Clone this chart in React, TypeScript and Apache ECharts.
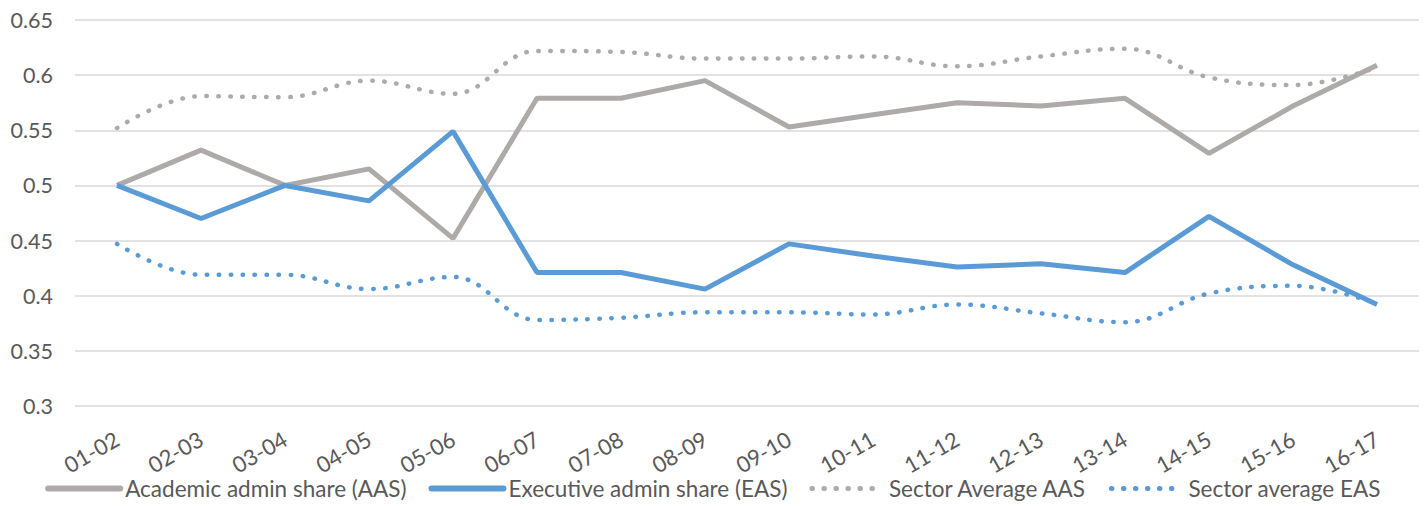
import React, { useEffect, useRef } from "react";
import * as echarts from "echarts";

const categories = ["01-02", "02-03", "03-04", "04-05", "05-06", "06-07", "07-08", "08-09", "09-10", "10-11", "11-12", "12-13", "13-14", "14-15", "15-16", "16-17"];
const aas = [0.5, 0.532, 0.5, 0.515, 0.452, 0.579, 0.579, 0.595, 0.553, 0.564, 0.575, 0.572, 0.579, 0.529, 0.572, 0.609];
const eas = [0.5, 0.47, 0.5, 0.486, 0.549, 0.421, 0.421, 0.406, 0.447, 0.436, 0.426, 0.429, 0.421, 0.472, 0.428, 0.392];
const sectorAas = [0.552, 0.581, 0.58, 0.595, 0.583, 0.622, 0.621, 0.615, 0.615, 0.617, 0.608, 0.617, 0.624, 0.598, 0.591, 0.607];
const sectorEas = [0.447, 0.419, 0.419, 0.406, 0.417, 0.378, 0.38, 0.385, 0.385, 0.383, 0.392, 0.384, 0.376, 0.402, 0.409, 0.393];

const GRAY = "#AEAAAA";
const BLUE = "#5B9BD5";
const FONT = "Lato";
const TXT = "#595959";

export default function App() {
  const ref = useRef<HTMLDivElement>(null);
  useEffect(() => {
    if (!ref.current) return;
    const chart = echarts.init(ref.current, null, { renderer: "svg" });
    const dotted = { type: [0.5, 11.5] as any, cap: "round" as const, width: 4.5 };
    const solidLegend = { width: 6, cap: "round" as const };
    const dottedLegend = { width: 5, type: [0.5, 11.5] as any, cap: "round" as const };
    chart.setOption({
      animation: false,
      textStyle: { fontFamily: FONT, color: TXT },
      grid: { left: 75, right: 7, top: 20, bottom: 100, containLabel: false },
      legend: {
        bottom: 1,
        left: "center",
        itemWidth: 72,
        itemHeight: 10,
        itemGap: 22,
        itemStyle: { opacity: 0 },
        textStyle: { fontFamily: FONT, fontSize: 22.5, color: TXT },
        data: [
          { name: "Academic admin share (AAS)", lineStyle: { color: GRAY, ...solidLegend } },
          { name: "Executive admin share (EAS)", lineStyle: { color: BLUE, ...solidLegend } },
          { name: "Sector Average AAS", lineStyle: { color: GRAY, ...dottedLegend } },
          { name: "Sector average EAS", lineStyle: { color: BLUE, ...dottedLegend } },
        ],
      },
      xAxis: {
        type: "category",
        data: categories,
        boundaryGap: true,
        axisLine: { show: false },
        axisTick: { show: false },
        axisLabel: { rotate: 30, fontSize: 22, color: TXT, fontFamily: FONT, margin: 31, interval: 0 },
      },
      yAxis: {
        type: "value",
        min: 0.3,
        max: 0.65,
        interval: 0.05,
        axisLine: { show: false },
        axisTick: { show: false },
        splitLine: { lineStyle: { color: "#D9D9D9", width: 1.5 } },
        axisLabel: {
          fontSize: 21.5,
          color: TXT,
          fontFamily: FONT,
          margin: 22,
          formatter: (v: number) => String(+v.toFixed(2)),
        },
      },
      series: [
        {
          name: "Academic admin share (AAS)",
          type: "line",
          data: aas,
          showSymbol: false,
          symbol: "none",
          color: GRAY,
          lineStyle: { color: GRAY, width: 5 },
        },
        {
          name: "Executive admin share (EAS)",
          type: "line",
          data: eas,
          showSymbol: false,
          symbol: "none",
          color: BLUE,
          lineStyle: { color: BLUE, width: 5 },
        },
        {
          name: "Sector Average AAS",
          type: "line",
          data: sectorAas,
          smooth: 0.4,
          showSymbol: false,
          symbol: "none",
          color: GRAY,
          lineStyle: { color: GRAY, ...dotted },
        },
        {
          name: "Sector average EAS",
          type: "line",
          data: sectorEas,
          smooth: 0.4,
          showSymbol: false,
          symbol: "none",
          color: BLUE,
          lineStyle: { color: BLUE, ...dotted },
        },
      ],
    });
    return () => chart.dispose();
  }, []);
  return (
    <div
      ref={ref}
      style={{ position: "fixed", left: 0, top: 0, width: 1426, height: 506, background: "#fff" }}
    />
  );
}
